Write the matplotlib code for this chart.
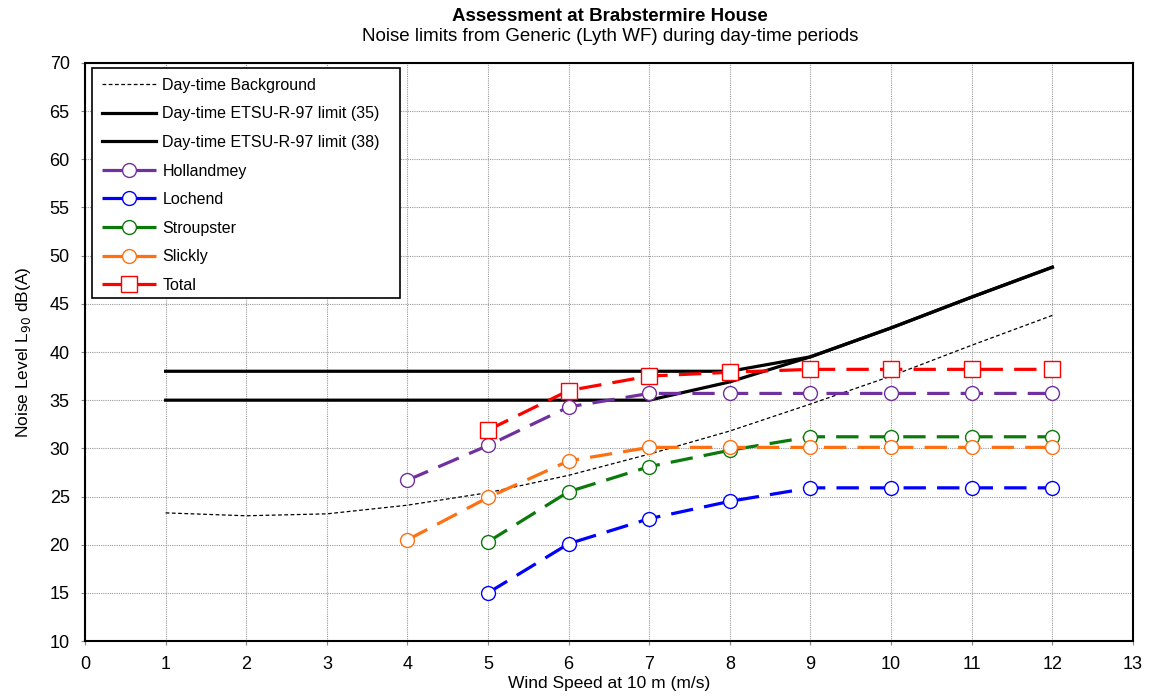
import matplotlib
matplotlib.use("Agg")
import matplotlib.pyplot as plt
import matplotlib.patches as patches

plt.rcParams["font.family"] = ["Liberation Sans", "DejaVu Sans"]

# ── Data ──────────────────────────────────────────────────────────────────────
wind_all = [1, 2, 3, 4, 5, 6, 7, 8, 9, 10, 11, 12]
background = [23.3, 23.0, 23.2, 24.1, 25.4, 27.2, 29.4, 31.8, 34.6, 37.5, 40.7, 43.8]
limit_35 = [35.0, 35.0, 35.0, 35.0, 35.0, 35.0, 35.0, 36.9, 39.5, 42.5, 45.7, 48.8]
limit_38 = [38.0, 38.0, 38.0, 38.0, 38.0, 38.0, 38.0, 38.0, 39.5, 42.5, 45.7, 48.8]

wind_4 = [4, 5, 6, 7, 8, 9, 10, 11, 12]
wind_5 = [5, 6, 7, 8, 9, 10, 11, 12]
hollandmey = [26.7, 30.3, 34.3, 35.7, 35.7, 35.7, 35.7, 35.7, 35.7]
lochend = [15.0, 20.1, 22.7, 24.5, 25.9, 25.9, 25.9, 25.9]
stroupster = [20.3, 25.5, 28.1, 29.8, 31.2, 31.2, 31.2, 31.2]
slickly = [20.5, 24.9, 28.7, 30.1, 30.1, 30.1, 30.1, 30.1, 30.1]
total = [31.9, 36.0, 37.5, 37.9, 38.2, 38.2, 38.2, 38.2]

fig = plt.figure(figsize=(11.49, 6.96), dpi=100)
ax = fig.add_axes([0.074, 0.079, 0.912, 0.8305])

ax.plot(wind_all, background, color="black", lw=0.9, ls=(0, (3, 2)),
        label="Day-time Background", zorder=3)
ax.plot(wind_all, limit_35, color="black", lw=2.3, label="Day-time ETSU-R-97 limit (35)", zorder=3)
ax.plot(wind_all, limit_38, color="black", lw=2.3, label="Day-time ETSU-R-97 limit (38)", zorder=3)

dash = (0, (7, 3.5))
series = [
    (wind_4, hollandmey, "#7030A0", "o", "Hollandmey"),
    (wind_5, lochend, "#0000FF", "o", "Lochend"),
    (wind_5, stroupster, "#0B7A0B", "o", "Stroupster"),
    (wind_4, slickly, "#FF7010", "o", "Slickly"),
    (wind_5, total, "#FF0000", "s", "Total"),
]
for xs, ys, col, mk, name in series:
    ax.plot(xs, ys, color=col, lw=2.3, ls=dash, marker=mk,
            ms=10 if mk == "o" else 11, mfc="white", mec=col, mew=1.0,
            label=name, zorder=4)

ax.set_xlim(0, 13)
ax.set_ylim(10, 70)
ax.set_xticks(range(0, 14))
ax.set_yticks(range(10, 71, 5))
ax.tick_params(labelsize=13, direction="out", length=3, color="#888888")
ax.tick_params(axis="x", pad=8)
ax.tick_params(axis="y", pad=8)
ax.grid(True, color="#999999", ls=(0, (1, 1)), lw=0.8)
for s in ax.spines.values():
    s.set_linewidth(1.5)

ax.set_xlabel("Wind Speed at 10 m (m/s)", fontsize=12.5, labelpad=2)
ax.set_ylabel("Noise Level L$_{90}$ dB(A)", fontsize=12.5, labelpad=12)

fig.text(0.531, 0.976, "Assessment at Brabstermire House", ha="center", va="center",
         fontsize=13.5, fontweight="bold")
fig.text(0.531, 0.947, "Noise limits from Generic (Lyth WF) during day-time periods",
         ha="center", va="center", fontsize=13.5)

# legend box drawn by hand (Excel leaves extra room on the right)
box = patches.Rectangle((0.0067, 0.593), 0.294, 0.398, transform=ax.transAxes,
                        facecolor="white", edgecolor="black", lw=1.2, zorder=5)
ax.add_patch(box)
leg = ax.legend(loc="upper left", bbox_to_anchor=(0.0067, 0.991), fontsize=11.5,
                frameon=False, handlelength=3.4, handletextpad=0.4,
                labelspacing=0.85, borderpad=0.6, borderaxespad=0)
leg.set_zorder(6)

fig.savefig("out.png", dpi=100)
